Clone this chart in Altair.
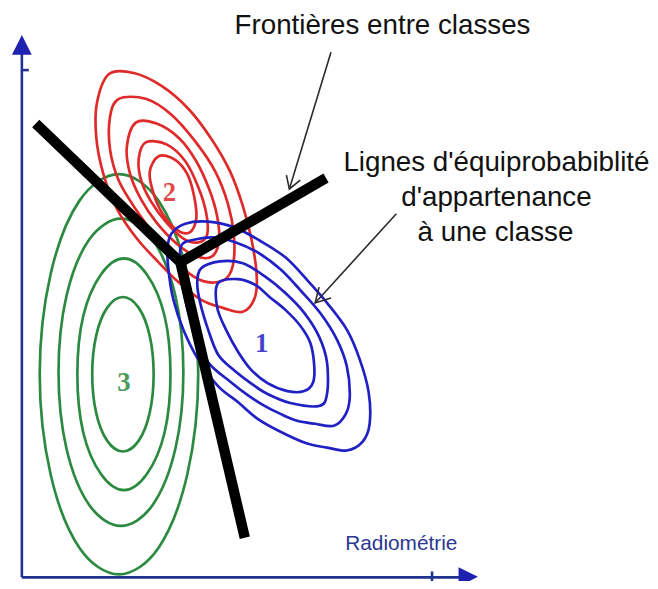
import altair as alt
import pandas as pd

# ---------------- data (picture pixel coordinates) ----------------
# Class 3 (green) equiprobability contours
green_1 = [(124,297),(140,308),(151,336),(155,375),(151,414),(140,442),(124,453),(108,442),(97,414),(93,375),(97,336),(108,308)]
green_2 = [(125,258),(148,274),(166,316),(172,375),(166,434),(148,476),(125,492),(102,476),(84,434),(78,375),(84,316),(102,274)]
green_3 = [(122,218),(154,239),(177,296),(185,373),(177,450),(154,507),(122,528),(90,507),(67,450),(59,373),(67,296),(90,239)]
green_4 = [(120,173),(160,200),(189,274),(200,375),(189,476),(160,550),(120,577),(80,550),(51,476),(40,375),(51,274),(80,200)]

# Class 2 (red) contours
red_1 = [(160,155),(176,158),(189,173),(196,196),(198,218),(191,232),(178,229),(164,213),(155,193),(151,171)]
red_2 = [(147,141),(168,143),(187,160),(200,186),(208,212),(209,234),(200,242),(185,238),(168,222),(152,200),(142,178),(140,157)]
red_3 = [(137,121),(158,122),(181,137),(198,160),(211,188),(219,215),(221,240),(214,256),(198,256),(178,243),(158,222),(142,198),(131,172),(128,145)]
red_4 = [(120,97),(147,97),(173,113),(197,140),(217,170),(230,203),(236,235),(235,265),(226,280),(205,281),(182,266),(160,240),(138,210),(120,180),(111,148),(111,115)]
red_5 = [(110,72),(135,71),(163,84),(190,107),(213,137),(232,170),(245,205),(254,240),(259,275),(257,298),(245,312),(225,308),(203,300),(180,282),(160,262),(138,238),(118,208),(104,172),(97,135),(98,100)]

# Class 1 (blue) contours
blue_1 = [(220,283),(240,279),(258,285),(272,297),(288,310),(303,326),(313,343),(317,365),(316,383),(307,392),(290,392),(270,384),(253,370),(240,352),(228,330),(219,307)]
blue_2 = [(203,268),(222,261),(245,263),(267,276),(288,293),(307,313),(322,337),(330,363),(330,395),(322,407),(293,404),(270,395),(253,384),(235,370),(220,355),(210,330),(202,303),(199,283)]
blue_3 = [(183,245),(197,239),(217,237),(238,242),(260,252),(283,269),(303,290),(323,313),(340,340),(350,367),(353,397),(349,415),(337,427),(318,425),(300,422),(283,415),(267,407),(250,396),(233,383),(210,363),(197,335),(187,300),(182,268)]
blue_4 = [(173,233),(187,223),(210,221),(237,227),(262,240),(288,257),(310,280),(330,303),(350,330),(363,360),(372,393),(373,425),(366,443),(350,452),(330,449),(310,445),(283,433),(260,420),(240,403),(220,387),(200,360),(185,330),(175,300),(170,270),(169,248)]

# Class boundaries (thick black)
boundary_a = [(36,122),(182,262),(247,540)]
boundary_b = [(182,262),(329,177)]

# Annotation arrows
arrow_1 = [(334,50),(292,188)]
arrow_1_head = [(289,174),(292,188),(303,179)]
arrow_2 = [(400,213),(318,303)]
arrow_2_head = [(322,287),(318,303),(334,298)]

# Axes
axis_v = [(22,50),(22,580)]
axis_h = [(22,580),(465,580)]
tick_v = [(22,68),(29,68)]
tick_h = [(436,574),(436,586)]
arrow_up = [(22,42.5)]
arrow_right = [(472.5,579.5)]

# Texts
title_text = ["Frontières entre classes"]
title_pos = [(386,32)]
note_lines = ["Lignes d'équiprobabiblité", "d'appartenance", "à une classe"]
note_pos = [(501,170),(501,205),(500,240)]
axis_label = ["Radiométrie"]
axis_label_pos = [(405,552)]
class_labels = ["1","2","3"]
class_label_pos = [(264,353),(171,200),(125,392)]

BLUE, RED, GREEN = "#2020c4", "#de2a2a", "#2b8a40"
NAVY = "#22308e"

# ---------------- build tables ----------------
def paths(named):
    rows = []
    for name, pts in named:
        for i, (x, y) in enumerate(pts):
            rows.append({"pid": name, "o": i, "x": x, "y": y})
    return pd.DataFrame(rows)

contour_rows = []
for cls, lst in [("3", [green_1, green_2, green_3, green_4]),
                 ("2", [red_1, red_2, red_3, red_4, red_5]),
                 ("1", [blue_1, blue_2, blue_3, blue_4])]:
    for k, pts in enumerate(lst):
        for i, (x, y) in enumerate(pts):
            contour_rows.append({"cls": cls, "pid": f"{cls}_{k}", "o": i, "x": x, "y": y})
contours = pd.DataFrame(contour_rows)

xs = alt.Scale(domain=[8, 656], nice=False, zero=False)
ys = alt.Scale(domain=[8, 581], nice=False, zero=False, reverse=True)
X = alt.X("x:Q", scale=xs, axis=None)
Y = alt.Y("y:Q", scale=ys, axis=None)

def pts_df(pts, texts=None):
    d = pd.DataFrame(pts, columns=["x", "y"])
    if texts is not None:
        d["t"] = texts
    return d

contour_layer = alt.Chart(contours).mark_line(
    interpolate="cardinal-closed", strokeWidth=2.7
).encode(
    x=X, y=Y, detail="pid:N", order="o:Q",
    color=alt.Color("cls:N", scale=alt.Scale(domain=["1", "2", "3"], range=[BLUE, RED, GREEN]), legend=None),
)

boundary_layer = alt.Chart(paths([("a", boundary_a), ("b", boundary_b)])).mark_line(
    color="black", strokeWidth=10.5, strokeJoin="miter", strokeCap="butt"
).encode(x=X, y=Y, detail="pid:N", order="o:Q")

arrow_layer = alt.Chart(paths([("s1", arrow_1), ("h1", arrow_1_head), ("s2", arrow_2), ("h2", arrow_2_head)])).mark_line(
    color="#2a2a2a", strokeWidth=1.6
).encode(x=X, y=Y, detail="pid:N", order="o:Q")

axis_layer = alt.Chart(paths([("v", axis_v), ("h", axis_h), ("tv", tick_v), ("th", tick_h)])).mark_line(
    color=NAVY, strokeWidth=2.6
).encode(x=X, y=Y, detail="pid:N", order="o:Q")

up_tri = alt.Chart(pts_df(arrow_up)).mark_point(
    shape="M0,-1L1,1L-1,1Z", filled=True, opacity=1, size=400, color="#1e22b0", strokeWidth=0
).encode(x=X, y=Y)
right_tri = alt.Chart(pts_df(arrow_right)).mark_point(
    shape="M1,0L-1,-1L-1,1Z", filled=True, opacity=1, size=380, color="#1e22b0", strokeWidth=0
).encode(x=X, y=Y)

title_layer = alt.Chart(pts_df(title_pos, title_text)).mark_text(
    font="Liberation Sans", fontSize=28, color="#111111", align="center", baseline="alphabetic"
).encode(x=X, y=Y, text="t:N")
note_layer = alt.Chart(pts_df(note_pos, note_lines)).mark_text(
    font="Liberation Sans", fontSize=28, color="#111111", align="center", baseline="alphabetic"
).encode(x=X, y=Y, text="t:N")
axis_label_layer = alt.Chart(pts_df(axis_label_pos, axis_label)).mark_text(
    font="Liberation Sans", fontSize=21, color="#2b3790", align="center", baseline="alphabetic"
).encode(x=X, y=Y, text="t:N")

lab = pts_df(class_label_pos, class_labels)
lab["cls"] = class_labels
class_label_layer = alt.Chart(lab).mark_text(
    font="Liberation Serif", fontSize=27, fontWeight="bold", align="center", baseline="alphabetic", opacity=0.85
).encode(
    x=X, y=Y, text="t:N",
    color=alt.Color("cls:N", scale=alt.Scale(domain=["1", "2", "3"], range=[BLUE, RED, GREEN]), legend=None),
)

chart = alt.layer(
    contour_layer, class_label_layer, boundary_layer, arrow_layer,
    axis_layer, up_tri, right_tri, title_layer, note_layer, axis_label_layer,
).properties(
    width=648, height=573, padding=0, autosize=alt.AutoSizeParams(type="none"),
    background="white",
).configure_view(stroke=None)

chart.save("out.html", embed_options={"renderer": "svg", "actions": False})
